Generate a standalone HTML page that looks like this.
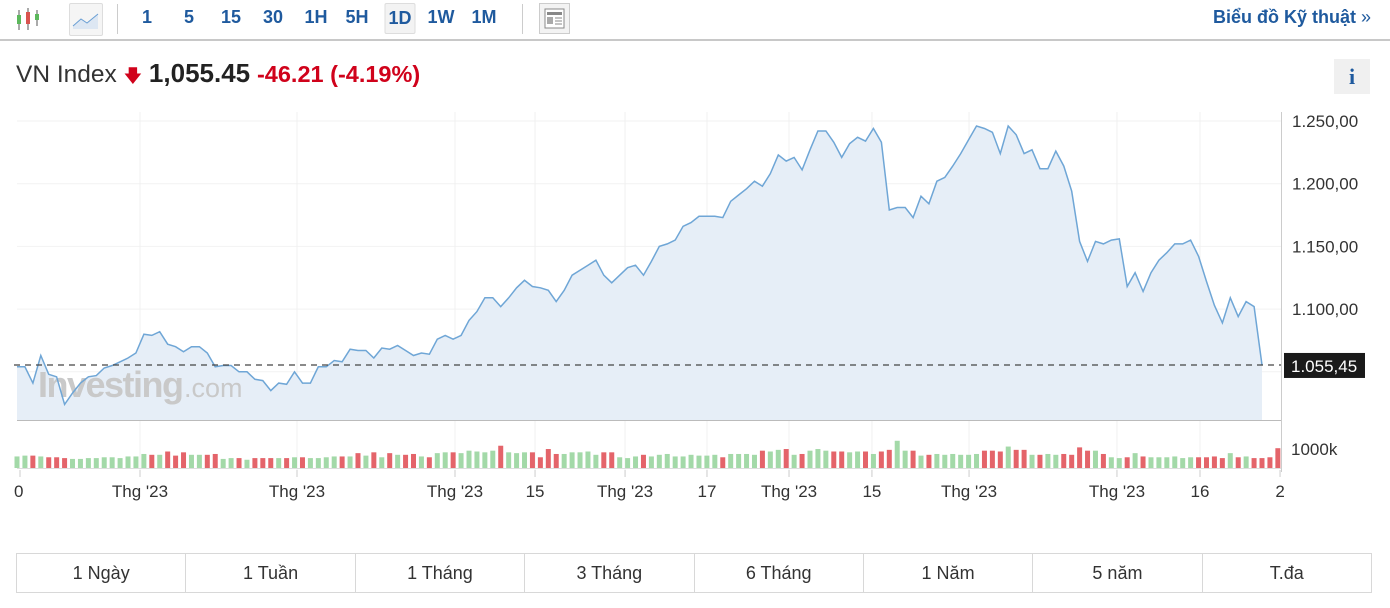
<!DOCTYPE html>
<html><head><meta charset="utf-8">
<style>
body{margin:0;width:1390px;height:608px;background:#fff;font-family:"Liberation Sans",sans-serif;overflow:hidden;position:relative}
.tb{position:absolute;left:0;top:0;width:1390px;height:41px;border-bottom:2px solid #c8c8c8;box-sizing:border-box}
.tf{position:absolute;top:7px;font-size:18px;font-weight:bold;color:#1f5a9e;transform:translateX(-50%)}
.title{position:absolute;left:16px;top:58px;font-size:24.5px;color:#333;white-space:nowrap}
.btns{position:absolute;left:16px;top:553px;width:1356px;height:40px;display:flex;border:1px solid #d8d8d8;box-sizing:border-box}
.btns div{flex:1;border-right:1px solid #d8d8d8;text-align:center;line-height:38px;font-size:18px;color:#333}
.btns div:last-child{border-right:none}
</style></head><body>
<div class="tb">
 <svg style="position:absolute;left:15px;top:6px" width="30" height="26">
  <line x1="4" y1="4" x2="4" y2="24" stroke="#555"/><rect x="2" y="9" width="4" height="9" fill="#5cb85c"/>
  <line x1="13" y1="2" x2="13" y2="24" stroke="#555"/><rect x="11" y="6" width="4" height="12" fill="#d9534f"/>
  <line x1="22" y1="4" x2="22" y2="20" stroke="#555"/><rect x="20" y="8" width="4" height="6" fill="#5cb85c"/>
 </svg>
 <div style="position:absolute;left:69px;top:3px;width:32px;height:31px;border:1px solid #ddd;background:#f5f5f5;border-radius:2px">
  <svg width="32" height="31"><path d="M3 22 L11 15 L17 19 L28 10 L28 25 L3 25Z" fill="#dde7f3"/><path d="M3 22 L11 15 L17 19 L28 10" stroke="#6a9fd4" fill="none"/></svg></div>
 <div style="position:absolute;left:117px;top:4px;width:1px;height:30px;background:#ccc"></div>
 <span class="tf" style="left:147px">1</span>
 <span class="tf" style="left:189px">5</span>
 <span class="tf" style="left:231px">15</span>
 <span class="tf" style="left:273px">30</span>
 <span class="tf" style="left:316px">1H</span>
 <span class="tf" style="left:357px">5H</span>
 <span class="tf" style="left:400px;top:3px;padding:4px 3px;background:#f3f3f3;border:1px solid #ddd;border-radius:2px">1D</span>
 <span class="tf" style="left:441px">1W</span>
 <span class="tf" style="left:484px">1M</span>
 <div style="position:absolute;left:522px;top:4px;width:1px;height:30px;background:#ccc"></div>
 <div style="position:absolute;left:539px;top:3px;width:31px;height:31px;border:1px solid #ccc;background:#f3f3f3;box-sizing:border-box">
  <svg width="29" height="29"><rect x="5" y="5" width="19" height="19" fill="#fff" stroke="#888"/><rect x="7" y="8" width="15" height="3" fill="#888"/><rect x="7" y="13" width="6" height="7" fill="#aaa"/><line x1="15" y1="14" x2="22" y2="14" stroke="#888"/><line x1="15" y1="17" x2="22" y2="17" stroke="#888"/><line x1="15" y1="20" x2="22" y2="20" stroke="#888"/></svg></div>
 <span class="tf" style="left:1213px;transform:none">Biểu đồ Kỹ thuật <span style="font-weight:normal">»</span></span>
</div>
<div class="title">VN Index <span style="color:#d0021b;font-size:18px">&#129095;</span> <b style="color:#222;font-size:26px">1,055.45</b> <span style="color:#d0021b;font-weight:bold;font-size:23.5px">-46.21 (-4.19%)</span></div>
<div style="position:absolute;left:1334px;top:59px;width:36px;height:35px;background:#f0f0f0;text-align:center;line-height:35px;font-family:'Liberation Serif',serif;font-weight:bold;font-size:22px;color:#1f5a9e">i</div>
<svg id="chart" style="position:absolute;left:0;top:0" width="1390" height="540"></svg>
<div class="btns">
 <div>1 Ngày</div><div>1 Tuần</div><div>1 Tháng</div><div>3 Tháng</div><div>6 Tháng</div><div>1 Năm</div><div>5 năm</div><div>T.đa</div>
</div>
<script>
const prices=[1054,1054,1041,1063,1048,1046,1024,1033,1041,1046,1047,1053,1055,1058,1061,1065,1080,1079,1082,1072,1070,1066,1070,1070,1065,1054,1055,1055,1050,1050,1044,1043,1035,1041,1040,1050,1041,1041,1054,1054,1059,1058,1068,1067,1067,1061,1069,1068,1071,1067,1063,1065,1064,1076,1079,1076,1079,1091,1098,1109,1109,1102,1109,1117,1123,1118,1117,1115,1106,1115,1127,1131,1135,1139,1127,1121,1127,1133,1135,
1127,1138,1150,1152,1155,1166,1169,1174,1174,1174,1173,1186,1191,1196,1202,1198,1208,1223,1218,1221,1211,1227,1242,1242,1233,1221,1232,1237,1234,1244,1233,1179,1181,1181,1173,1190,1184,1202,1205,1214,1224,1235,1246,1244,1241,1224,1246,1239,1224,1227,1212,1212,1226,1214,1194,1154,1138,1154,1152,1155,1156,1118,1129,1114,1129,1139,1145,1152,1152,1155,1142,1122,1103,1089,1109,1094,1106,1102,1055.45];
const volumes=[700,750,750,700,650,650,600,550,550,600,600,650,650,600,700,700,850,800,800,1000,750,950,800,800,800,850,550,600,600,500,600,600,600,600,600,650,650,600,600,650,700,700,700,900,750,950,650,900,800,800,850,700,650,900,950,950,900,1050,1000,950,1050,1350,950,900,950,950,650,1150,850,850,950,950,1000,800,950,950,650,600,700,
800,700,800,850,700,700,800,750,750,800,650,850,850,850,800,1050,1000,1100,1150,800,850,1050,1150,1050,1000,1000,950,1000,1000,850,1000,1100,1650,1050,1050,750,800,850,800,850,800,800,850,1050,1050,1000,1300,1100,1100,800,800,850,800,850,800,1250,1050,1050,850,650,600,650,900,700,650,650,650,700,600,650,650,650,700,600,900,650,700,600,600,650,1200];
const tickVals=[1100,1150,1200,1250];
const xLabels=["0","Thg '23","Thg '23","Thg '23","15","Thg '23","17","Thg '23","15","Thg '23","Thg '23","16","2"];
const xLabelFrac=[0.0024,0.0988,0.2249,0.3518,0.4161,0.4884,0.5542,0.6201,0.6867,0.7647,0.8835,0.9502,1.0145];
const svg=document.getElementById('chart');const NS='http://www.w3.org/2000/svg';
function mk(t,a,p){const e=document.createElementNS(NS,t);for(const k in a)e.setAttribute(k,a[k]);(p||svg).appendChild(e);return e}
const X0=17,X1=1262,N=prices.length;
const xs=i=>X0+(X1-X0)*i/(N-1);
const xf=f=>X0+(X1-X0)*f;
const ys=v=>121+(1250-v)*1.254;
const vy=v=>468-v*0.0165;
for(const v of [1050,1100,1150,1200,1250]){const g=mk('line',{x1:17,x2:1281,y1:ys(v),y2:ys(v),stroke:'#f2f2f2'});

}
xLabelFrac.forEach((f,i)=>{if(i===0||i===xLabelFrac.length-1)return;const x=xf(f);const g=mk('line',{x1:x,x2:x,y1:112,y2:470,stroke:'#f0f0f0'});

});
let d='M'+xs(0)+' '+ys(prices[0]);for(let i=1;i<N;i++)d+=' L'+xs(i).toFixed(1)+' '+ys(prices[i]).toFixed(1);
const area=mk('path',{d:d+' L'+X1+' 420 L'+X0+' 420Z',fill:'#e6eef7'});


const wm=mk('text',{x:38,y:397,'font-size':36,'font-weight':'bold',fill:'#c9c9c9','font-family':'Liberation Sans, sans-serif','letter-spacing':'-1.5'});wm.textContent='Investing';


const wm2=mk('text',{x:184,y:397,'font-size':27,fill:'#c9c9c9','font-family':'Liberation Sans, sans-serif'});wm2.textContent='.com';


const ln=mk('path',{d:d,fill:'none',stroke:'#6fa6d6','stroke-width':1.5});


const last=prices[N-1];
const dl=mk('line',{x1:14,x2:1281,y1:ys(last),y2:ys(last),stroke:'#444','stroke-dasharray':'6,5','stroke-width':1.3});


mk('line',{x1:1281.5,x2:1281.5,y1:112,y2:472,stroke:'#ccc'});
mk('line',{x1:17,x2:1281,y1:420.5,y2:420.5,stroke:'#bbb'});
mk('line',{x1:17,x2:1281,y1:468.5,y2:468.5,stroke:'#ddd'});
tickVals.forEach(v=>{const t=mk('text',{x:1292,y:ys(v)+6,'font-size':17,fill:'#333'});t.textContent=v.toLocaleString('de-DE',{minimumFractionDigits:2});

});
const lb=mk('rect',{x:1284,y:ys(last)-12,width:81,height:25,fill:'#1a1a1a'});


const lt=mk('text',{x:1291,y:ys(last)+7,'font-size':17,fill:'#fff'});lt.textContent=last.toLocaleString('de-DE',{minimumFractionDigits:2});


const vl=mk('text',{x:1291,y:455,'font-size':17,fill:'#333'});vl.textContent='1000k';


volumes.forEach((v,i)=>{const up=i===0||prices[i]>=prices[i-1];const b=mk('rect',{x:xs(i)-2.5,y:vy(v),width:5,height:468-vy(v),fill:up?'#a3d9a8':'#e4646a'});

});
xLabelFrac.forEach((f,i)=>{const x=xf(f);const t=mk('text',{x:i===0?14:x,y:497,'font-size':17,fill:'#333','text-anchor':i===0?'start':'middle'});t.textContent=xLabels[i];


mk('line',{x1:x,x2:x,y1:470,y2:477,stroke:'#ccc'});});
</script>
</body></html>
